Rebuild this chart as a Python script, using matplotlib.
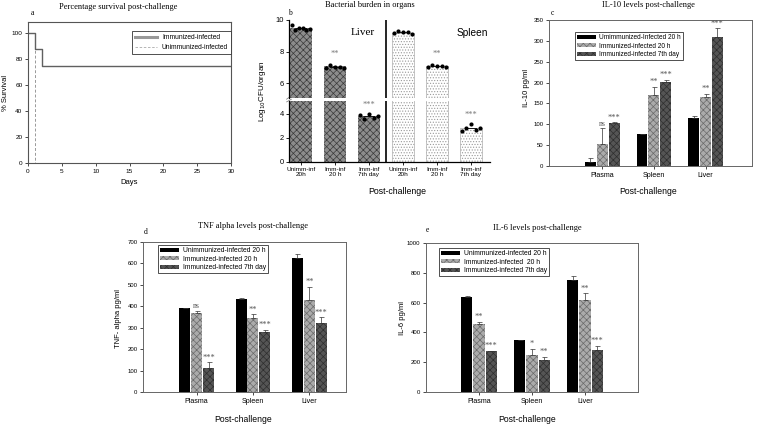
import matplotlib
matplotlib.use('Agg')
import matplotlib.pyplot as plt
import numpy as np
from matplotlib.lines import Line2D
from matplotlib.patches import Patch

plt.rcParams['font.family'] = ['Liberation Sans', 'DejaVu Sans']
plt.rcParams['hatch.linewidth'] = 0.5
SERIF = ['Liberation Serif', 'DejaVu Serif']

# ---------------- data ----------------
# a: survival
days_imm = [0, 1, 2, 30]
surv_imm = [100, 87.5, 75, 75]
days_unimm = [0, 1, 30]
surv_unimm = [100, 0, 0]

# b: bacterial burden
b_labels = ['Unimm-inf\n20h', 'Imm-inf\n20 h', 'Imm-inf\n7th day',
            'Unimm-inf\n20h', 'Imm-inf\n20 h', 'Imm-inf\n7th day']
b_means = [9.5, 7.05, 3.8, 9.2, 7.07, 2.84]
b_points = [[9.68, 9.36, 9.47, 9.52, 9.38, 9.44],
            [6.95, 7.13, 7.04, 7.04, 6.95],
            [3.95, 3.6, 4.0, 3.7, 3.8],
            [9.19, 9.32, 9.26, 9.22, 9.09],
            [7.04, 7.14, 7.10, 7.06, 6.99],
            [2.6, 2.86, 3.18, 2.67, 2.86]]
b_stars = ['', '**', '***', '', '**', '***']

groups = ['Plasma', 'Spleen', 'Liver']

# c: IL-10
c_labels = ['Umimmunized-Infected 20 h', 'Immunized-infected 20 h', 'Immunized-infected 7th day']
c_vals = [[10, 76, 114], [52, 170, 165], [103, 202, 310]]
c_errs = [[9, 1, 7], [38, 20, 8], [2, 5, 20]]
c_stars = [['', '', ''], ['ns', '**', '**'], ['***', '***', '***']]

# d: TNF alpha
d_labels = ['Unimmunized-infected 20 h', 'Immunized-infected 20 h', 'Immunized-infected 7th day']
d_vals = [[390, 433, 627], [370, 347, 430], [113, 280, 323]]
d_errs = [[3, 7, 15], [10, 15, 60], [25, 10, 25]]
d_stars = [['', '', ''], ['ns', '**', '**'], ['***', '***', '***']]

# e: IL-6
e_labels = ['Unimmunized-infected 20 h', 'Immunized-infected  20 h', 'Immunized-infected 7th day']
e_vals = [[637, 347, 755], [455, 250, 618], [275, 213, 285]]
e_errs = [[8, 5, 25], [15, 40, 45], [3, 25, 25]]
e_stars = [['', '', ''], ['**', '*', '**'], ['***', '**', '***']]

# ---------------- figure ----------------
W, H = 758, 425
fig = plt.figure(figsize=(W / 100, H / 100), dpi=100)


def ax_px(l, t, r, b):
    return fig.add_axes([l / W, 1 - b / H, (r - l) / W, (b - t) / H])


def ftext(x, y, s, **kw):
    fig.text(x / W, 1 - y / H, s, **kw)


TICK = 4.6
SPINE = '#555555'

# ---------- panel a ----------
axa = ax_px(28, 22, 231, 163)
axa.plot(days_unimm, surv_unimm, drawstyle='steps-post', color='#999999', lw=0.7,
         ls=(0, (3, 2)))
axa.plot(days_imm, surv_imm, drawstyle='steps-post', color='#606060', lw=1.0)
axa.set_xlim(0, 30)
axa.set_ylim(0, 108.5)
axa.set_xticks(range(0, 31, 5))
axa.set_yticks(range(0, 101, 20))
axa.tick_params(labelsize=TICK, length=2, width=0.5, direction='out', pad=2)
for s in axa.spines.values():
    s.set_color(SPINE)
    s.set_linewidth(0.8)
axa.set_xlabel('Days', fontsize=5.5, labelpad=4)
axa.set_ylabel('% Survival', fontsize=5.5, labelpad=2)
h_a = [Line2D([], [], color='#999999', lw=2.2),
       Line2D([], [], color='#aaaaaa', lw=0.6, ls=(0, (3, 2)))]
axa.legend(h_a, ['Immunized-infected', 'Unimmunized-infected'], loc='upper right',
           bbox_to_anchor=(1.0, 0.937), borderaxespad=0, fontsize=4.8, frameon=True,
           fancybox=False, edgecolor='#333333', framealpha=1, handlelength=3.2,
           borderpad=0.45, labelspacing=0.45).get_frame().set_linewidth(0.6)
ftext(118, 7, 'Percentage survival post-challenge', fontsize=6, family=SERIF,
      ha='center', va='center')
ftext(32, 13, 'a', fontsize=5.5, family=SERIF, ha='center', va='center')

# ---------- panel b ----------
axbt = ax_px(289, 20, 490, 98)
axbb = ax_px(289, 101, 490, 162)
xb = np.arange(6)
for ax in (axbt, axbb):
    for i in range(6):
        if i < 3:
            ax.bar(xb[i], b_means[i], width=0.64, color='#8c8c8c', hatch='xxxxx',
                   edgecolor='#3a3a3a', lw=0)
        else:
            ax.bar(xb[i], b_means[i], width=0.64, color='white', hatch='......',
                   edgecolor='#9a9a9a', lw=0.4)
        pts = b_points[i]
        offs = np.linspace(-0.27, 0.27, len(pts))
        ax.scatter(xb[i] + offs, pts, s=9, color='black', zorder=5, lw=0)
        ax.plot([xb[i] - 0.15, xb[i] + 0.15], [np.mean(pts)] * 2, color='black', lw=0.6,
                zorder=4)
    ax.axvline(2.5, color='black', lw=1.2)
    ax.set_xlim(-0.35, 5.56)
    for s in ['top', 'right']:
        ax.spines[s].set_visible(False)
    ax.spines['left'].set_linewidth(0.9)
    ax.tick_params(labelsize=TICK + 0.8, length=2, width=0.6, direction='out', pad=1.5)
axbt.set_ylim(5.05, 10)
axbt.set_yticks([6, 8, 10])
axbt.spines['bottom'].set_visible(False)
axbt.set_xticks([])
axbb.set_ylim(0, 5.08)
axbb.set_yticks([0, 2, 4])
axbb.spines['bottom'].set_linewidth(0.9)
axbb.set_xticks(xb)
axbb.set_xticklabels(b_labels, fontsize=TICK, linespacing=1.1)
for i, st in enumerate(b_stars):
    if not st:
        continue
    y = max(b_points[i]) + 0.45
    ax = axbt if y > 5.1 else axbb
    ax.text(xb[i], y, st, ha='center', va='bottom', fontsize=6, color='#777777',
            family=SERIF)
axbt.text(1.82, 9.22, 'Liver', ha='center', va='center', fontsize=8, family=SERIF)
axbt.text(5.05, 9.17, 'Spleen', ha='center', va='center', fontsize=7.3)
# break marks
for (yy, ax) in [(0.0, axbt), (1.0, axbb)]:
    ax.plot([-0.012, 0.012], [yy - 0.015, yy + 0.03], transform=ax.transAxes,
            color='#777777', lw=0.5, clip_on=False)
ftext(262, 91, 'Log$_{10}$CFU/organ', fontsize=5.8, rotation=90, ha='center',
      va='center')
ftext(397, 192, 'Post-challenge', fontsize=6.3, ha='center', va='center')
ftext(370, 5, 'Bacterial burden in organs', fontsize=6, family=SERIF, ha='center',
      va='center')
ftext(290, 13, 'b', fontsize=5.5, family=SERIF, ha='center', va='center')

# ---------- cytokine panels ----------
styles = [dict(color='black', edgecolor='black', hatch=None),
          dict(color='#ababab', edgecolor='#6a6a6a', hatch='xxxxx'),
          dict(color='#555555', edgecolor='#2e2e2e', hatch='xxxxx')]


def cyto(rect, labels, vals, errs, stars, ylim, ystep, xlim, width, off, leg_xy,
         title, title_xy, letter, letter_xy, ylabel, ylabel_xy, xlabel_xy, fs_leg):
    ax = ax_px(*rect)
    x = np.arange(1, 4)
    for k in range(3):
        st = styles[k]
        ax.bar(x + (k - 1) * off, vals[k], width=width, color=st['color'],
               edgecolor=st['edgecolor'], hatch=st['hatch'], lw=0,
               yerr=[np.zeros(3), errs[k]], capsize=1.8,
               error_kw=dict(elinewidth=0.5, capthick=0.5, ecolor='#333333'))
        for j in range(3):
            s = stars[k][j]
            if s:
                ax.text(x[j] + (k - 1) * off, vals[k][j] + errs[k][j] + ylim * 0.005, s,
                        ha='center', va='bottom', fontsize=6 if s != 'ns' else 5.5,
                        color='#555555', family=SERIF)
    ax.set_xlim(*xlim)
    ax.set_ylim(0, ylim)
    ax.set_yticks(np.arange(0, ylim + 1, ystep))
    ax.set_xticks(x)
    ax.set_xticklabels(groups, fontsize=TICK + 0.5)
    ax.tick_params(axis='y', labelsize=TICK - 0.3)
    ax.tick_params(length=2, width=0.5, direction='out', pad=2)
    for s in ax.spines.values():
        s.set_color('#666666')
        s.set_linewidth(0.7)
    handles = [Patch(facecolor=st['color'], edgecolor=st['edgecolor'], hatch=st['hatch'],
                     lw=0) for st in styles]
    lg = ax.legend(handles, labels, loc='upper left',
                   bbox_to_anchor=(leg_xy[0] / W, 1 - leg_xy[1] / H),
                   bbox_transform=fig.transFigure, fontsize=fs_leg, frameon=True,
                   fancybox=False, edgecolor='#333333', framealpha=1, borderaxespad=0,
                   handlelength=2.8, handleheight=0.55, handletextpad=0.5,
                   borderpad=0.35, labelspacing=0.2)
    lg.get_frame().set_linewidth(0.6)
    ftext(*title_xy, title, fontsize=6, family=SERIF, ha='center', va='center')
    ftext(*letter_xy, letter, fontsize=5.5, family=SERIF, ha='center', va='center')
    ftext(*ylabel_xy, ylabel, fontsize=5.5, rotation=90, ha='center', va='center')
    ftext(*xlabel_xy, 'Post-challenge', fontsize=6.2, ha='center', va='center')
    return ax


cyto((549, 20, 752, 166), c_labels, c_vals, c_errs, c_stars, 350, 50,
     (-0.03, 3.9), 0.21, 0.23, (575, 32), 'IL-10 levels post-challenge', (648, 5),
     'c', (552, 13), 'IL-10 pg/ml', (527, 88), (648, 192), 4.7)
cyto((143, 242, 346, 392), d_labels, d_vals, d_errs, d_stars, 700, 100,
     (0.05, 3.65), 0.195, 0.212, (158, 245), 'TNF alpha levels post-challenge',
     (253, 226), 'd', (146, 232), 'TNF- alpha pg/ml', (118, 318), (243, 420), 4.9)
cyto((426, 243, 638, 392), e_labels, e_vals, e_errs, e_stars, 1000, 200,
     (0.0, 4.0), 0.215, 0.232, (439, 248), 'IL-6 levels post-challenge',
     (537, 228), 'e', (427, 230), 'IL-6 pg/ml', (402, 318), (527, 419), 4.9)

fig.savefig('out.png', dpi=100)
